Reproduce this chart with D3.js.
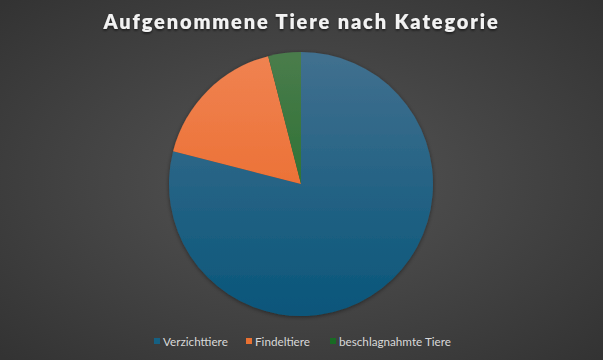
<!DOCTYPE html>
<html>
<head>
<meta charset="utf-8">
<script src="https://cdn.jsdelivr.net/npm/d3@7"></script>
<style>
  body { margin: 0; background: #3a3a3a; }
  svg { display: block; }
</style>
</head>
<body>
<svg id="chart"></svg>
<script>
const W = 603, H = 360;

// data
const categories = ["Verzichttiere", "Findeltiere", "beschlagnahmte Tiere"];
const values = [79, 17, 4];
const topColors = ["#41708f", "#f08352", "#4a7c4c"];
const bottomColors = ["#09567a", "#e8611c", "#166a1f"];
const baseColors = ["#156082", "#e97132", "#196b24"];

const svg = d3.select("#chart").attr("width", W).attr("height", H);
const defs = svg.append("defs");

// background radial gradient
const bg = defs.append("radialGradient").attr("id", "bg")
  .attr("cx", "50%").attr("cy", "50%").attr("r", "70%");
bg.append("stop").attr("offset", "0%").attr("stop-color", "#555555");
bg.append("stop").attr("offset", "100%").attr("stop-color", "#333333");
svg.append("rect").attr("width", W).attr("height", H).attr("fill", "url(#bg)");

// shadows
const sh = defs.append("filter").attr("id", "shadow")
  .attr("x", "-10%").attr("y", "-10%").attr("width", "120%").attr("height", "120%");
sh.append("feDropShadow").attr("dx", 0).attr("dy", 1).attr("stdDeviation", 2)
  .attr("flood-color", "#000").attr("flood-opacity", 0.45);
const tsh = defs.append("filter").attr("id", "tshadow");
tsh.append("feDropShadow").attr("dx", 0).attr("dy", 1.5).attr("stdDeviation", 1.2)
  .attr("flood-color", "#000").attr("flood-opacity", 0.6);

// slice gradients (top lighter, bottom darker)
const cx = 301, cy = 184, r = 132;
categories.forEach((c, i) => {
  const g = defs.append("linearGradient").attr("id", "g" + i)
    .attr("gradientUnits", "userSpaceOnUse")
    .attr("x1", 0).attr("y1", -r).attr("x2", 0).attr("y2", r);
  g.append("stop").attr("offset", "0%").attr("stop-color", topColors[i]);
  g.append("stop").attr("offset", "100%").attr("stop-color", bottomColors[i]);
});

// title
svg.append("text")
  .attr("x", W / 2).attr("y", 29)
  .attr("text-anchor", "middle")
  .attr("fill", "#f2f2f2")
  .attr("font-family", "Lato, 'Open Sans', sans-serif")
  .attr("font-weight", 800)
  .attr("font-size", 20)
  .attr("letter-spacing", 1.85)
  .attr("filter", "url(#tshadow)")
  .text("Aufgenommene Tiere nach Kategorie");

// pie
const pie = d3.pie().sort(null).value(d => d);
const arc = d3.arc().innerRadius(0).outerRadius(r);
const g = svg.append("g").attr("transform", `translate(${cx},${cy})`)
  .attr("filter", "url(#shadow)");
g.selectAll("path")
  .data(pie(values))
  .join("path")
  .attr("d", arc)
  .attr("fill", (d, i) => `url(#g${i})`);

// legend
const legX = [154, 246, 330];
const leg = svg.append("g");
categories.forEach((c, i) => {
  leg.append("rect")
    .attr("x", legX[i]).attr("y", 338)
    .attr("width", 6).attr("height", 6)
    .attr("fill", baseColors[i]);
  leg.append("text")
    .attr("x", legX[i] + 9).attr("y", 345.5)
    .attr("fill", "#d9d9d9")
    .attr("font-family", "Lato, 'Open Sans', sans-serif")
    .attr("font-size", 11.7)
    .text(c);
});
</script>
</body>
</html>
